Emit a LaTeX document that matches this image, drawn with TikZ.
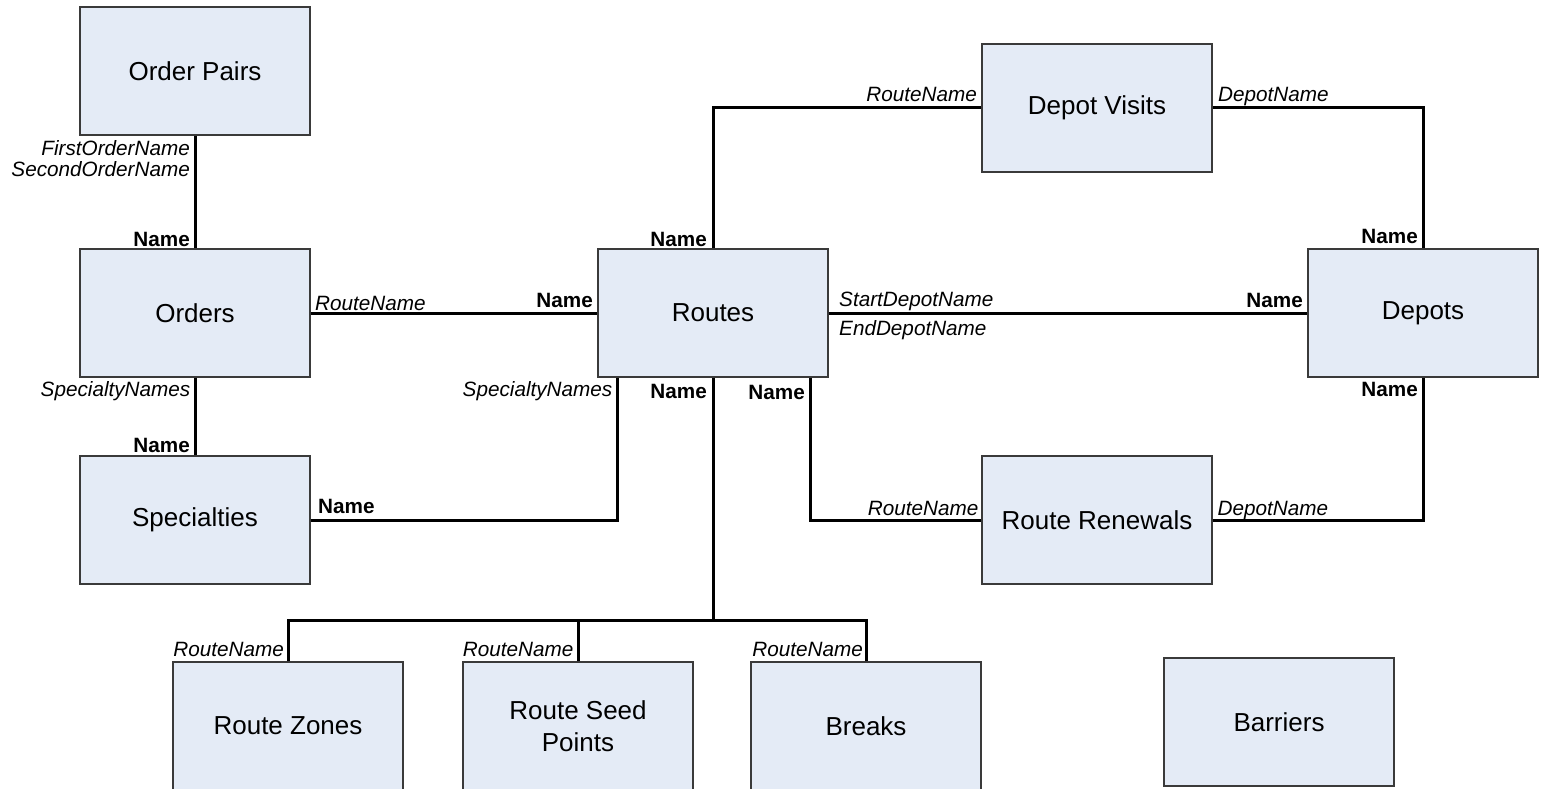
\documentclass[tikz,border=0pt]{standalone}
\usepackage{fontspec}
\setmainfont{Liberation Sans}
\definecolor{boxfill}{HTML}{E4EBF6}
\definecolor{boxline}{HTML}{3A3A3A}
\begin{document}
\begin{tikzpicture}[x=1pt,y=-1pt,
  entity/.style={draw=boxline,line width=1.2pt,fill=boxfill,rectangle,
    minimum width=230pt,minimum height=128pt,inner sep=0pt,align=center,
    font=\fontsize{26}{32}\selectfont},
  conn/.style={draw=black,line width=3pt,line join=miter},
  fld/.style={inner sep=0pt,font=\fontsize{20.7}{24}\selectfont\itshape},
  key/.style={inner sep=0pt,font=\fontsize{20.7}{24}\selectfont\bfseries}]
\useasboundingbox (0,0) rectangle (1547,789);
% entities
\node[entity] (op)  at (195,71)   {Order Pairs};
\node[entity] (ord) at (195,313)  {Orders};
\node[entity] (spec) at (195,520) {Specialties};
\node[entity] (rt)  at (713,313)  {Routes};
\node[entity] (dv)  at (1097,108) {Depot Visits};
\node[entity] (dep) at (1423,313) {Depots};
\node[entity] (rr)  at (1097,520) {Route Renewals};
\node[entity] (rz)  at (288,726)  {Route Zones};
\node[entity] (rsp) at (578,726)  {Route Seed\\Points};
\node[entity] (brk) at (866,726)  {Breaks};
\node[entity] (bar) at (1279,722) {Barriers};
% connectors
\coordinate (bus) at (713,620);
\draw[conn] (op.south) -- (ord.north);
\draw[conn] (ord.east) -- (rt.west);
\draw[conn] (ord.south) -- (spec.north);
\draw[conn] (spec.east) -| ([xshift=20pt]rt.south west);
\draw[conn] (rt.north) |- (dv.west);
\draw[conn] (dv.east) -| (dep.north);
\draw[conn] (rt.east) -- (dep.west);
\draw[conn] ([xshift=-18.5pt]rt.south east) |- (rr.west);
\draw[conn] (rr.east) -| (dep.south);
\draw[conn] (rt.south) -- (bus);
\draw[conn] (rz.north) |- (bus);
\draw[conn] (rsp.north) |- (bus);
\draw[conn] (brk.north) |- (bus);
% labels
\node[fld,anchor=base east] (l1) at (190,156) {FirstOrderName};
\node[fld,anchor=base east] (l2) at (190,176) {SecondOrderName};
\node[key,anchor=base east] (l3) at (190,246) {Name};
\node[fld,anchor=base west] (l4) at (315,310) {RouteName};
\node[key,anchor=base east] (l5) at (593,307) {Name};
\node[fld,anchor=base east] (l6) at (190.5,396.5) {SpecialtyNames};
\node[key,anchor=base east] (l7) at (190,452) {Name};
\node[key,anchor=base west] (l8) at (318,513) {Name};
\node[fld,anchor=base east] (l9) at (612.5,396.5) {SpecialtyNames};
\node[key,anchor=base east] (l10) at (707,246.5) {Name};
\node[fld,anchor=base east] (l11) at (977,101.7) {RouteName};
\node[fld,anchor=base west] (l12) at (839,306.5) {StartDepotName};
\node[fld,anchor=base west] (l13) at (839,335) {EndDepotName};
\node[key,anchor=base east] (l14) at (707,398) {Name};
\node[key,anchor=base east] (l15) at (805,399) {Name};
\node[fld,anchor=base west] (l16) at (1218,101.7) {DepotName};
\node[key,anchor=base east] (l17) at (1418,243.5) {Name};
\node[key,anchor=base east] (l18) at (1303,307) {Name};
\node[key,anchor=base east] (l19) at (1418,396) {Name};
\node[fld,anchor=base east] (l20) at (978.5,515) {RouteName};
\node[fld,anchor=base west] (l21) at (1217.5,515) {DepotName};
\node[fld,anchor=base east] (l22) at (284,656.5) {RouteName};
\node[fld,anchor=base east] (l23) at (573.5,656.5) {RouteName};
\node[fld,anchor=base east] (l24) at (863,656.5) {RouteName};
\end{tikzpicture}
\end{document}
